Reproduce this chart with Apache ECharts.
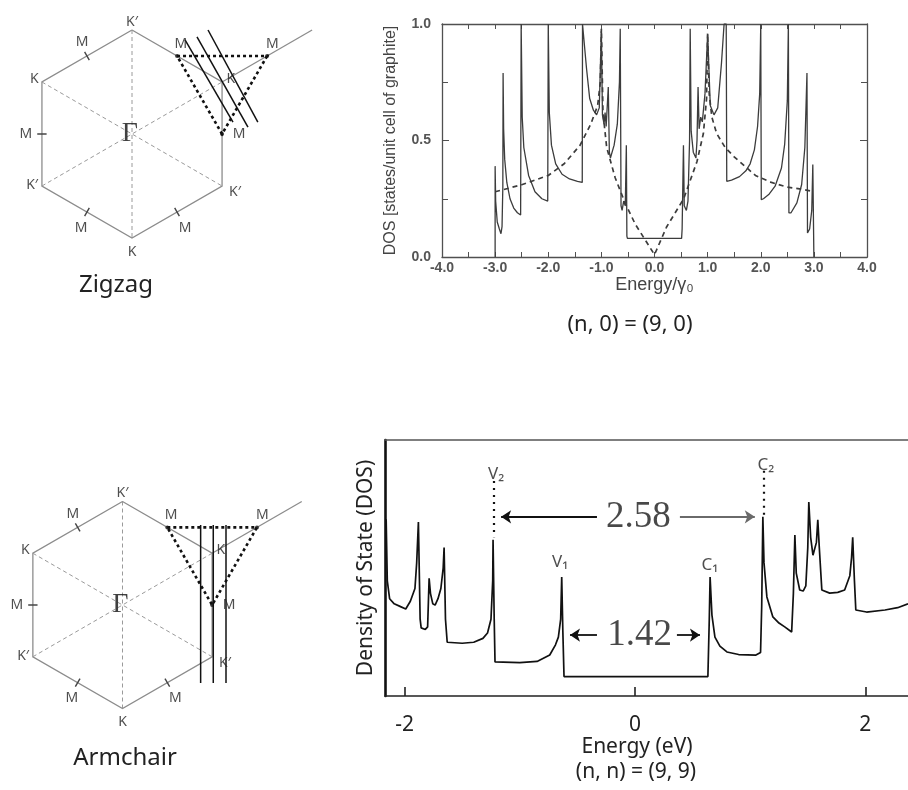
<!DOCTYPE html>
<html>
<head>
<meta charset="utf-8">
<title>Nanotube DOS</title>
<script src="https://cdn.jsdelivr.net/npm/echarts@6/dist/echarts.min.js"></script>
<style>
  html, body { margin: 0; padding: 0; background: #fff; }
  #main { width: 908px; height: 790px; }
</style>
</head>
<body>
<div id="main"></div>
<script>
// (9,0) zigzag tube, DOS in states / unit cell of graphite, energy in gamma0
var zzEnergy = [-3.0, -3.0, -2.99, -2.96, -2.92, -2.89, -2.87, -2.855, -2.85, -2.84, -2.82, -2.78, -2.72, -2.65, -2.58, -2.52,
  -2.51, -2.49, -2.46, -2.37, -2.25, -2.12, -2.01, -2.0, -1.98, -1.94, -1.86, -1.74, -1.6, -1.45, -1.36, -1.355,
  -1.32, -1.28, -1.22, -1.15, -1.09, -1.04, -1.0, -0.98, -0.95, -0.93, -0.91, -0.87, -0.85, -0.83, -0.76, -0.70,
  -0.66, -0.645, -0.63, -0.61, -0.58, -0.55, -0.53, -0.52, -0.51, 0.51, 0.52, 0.545, 0.56, 0.6, 0.63, 0.66,
  0.672, 0.69, 0.73, 0.78, 0.80, 0.82, 0.84, 0.87, 0.9, 0.95, 1.0, 1.05, 1.12, 1.19, 1.26, 1.31,
  1.35, 1.36, 1.45, 1.6, 1.72, 1.8, 1.88, 1.94, 1.98, 2.0, 2.01, 2.05, 2.15, 2.27, 2.39, 2.45,
  2.5, 2.52, 2.53, 2.57, 2.68, 2.77, 2.83, 2.87, 2.88, 2.92, 2.96, 2.98, 3.0];
var zzDos = [0, 0.39, 0.24, 0.15, 0.12, 0.10, 0.13, 0.30, 0.79, 0.55, 0.42, 0.32, 0.25, 0.21, 0.19, 0.18,
  1.0, 0.60, 0.47, 0.35, 0.28, 0.25, 0.24, 1.0, 0.62, 0.48, 0.40, 0.355, 0.335, 0.325, 0.32, 1.0,
  1.0, 0.81, 0.68, 0.63, 0.61, 0.64, 0.97, 0.61, 0.57, 0.62, 0.56, 0.73, 0.45, 0.425, 0.48, 0.57,
  0.75, 0.98, 0.22, 0.20, 0.24, 0.22, 0.48, 0.09, 0.08, 0.08, 0.12, 0.48, 0.22, 0.20, 0.24, 0.5,
  0.98, 0.54, 0.45, 0.425, 0.50, 0.73, 0.55, 0.60, 0.58, 0.70, 0.955, 0.65, 0.61, 0.64, 0.83, 1.0,
  1.0, 0.325, 0.33, 0.345, 0.37, 0.40, 0.46, 0.56, 0.70, 1.0, 0.246, 0.25, 0.268, 0.304, 0.382, 0.483,
  0.67, 1.0, 0.189, 0.19, 0.232, 0.311, 0.47, 0.79, 0.103, 0.12, 0.2, 0.397, 0];

// graphite DOS (dashed)
var grEnergy = [-3.0, -2.5, -2.0, -1.7, -1.4, -1.2, -1.07, -1.02, -1.0, -0.97, -0.9, -0.74, -0.55, -0.36, -0.11, 0.0,
  0.23, 0.55, 0.8, 0.92, 0.98, 1.0, 1.03, 1.08, 1.17, 1.33, 1.5, 1.7, 1.9, 2.2, 2.5, 2.8, 3.0];
var grDos = [0.28, 0.31, 0.35, 0.40, 0.48, 0.57, 0.65, 0.75, 0.98, 0.62, 0.47, 0.34, 0.23, 0.14, 0.05, 0.01,
  0.13, 0.25, 0.41, 0.53, 0.68, 0.96, 0.70, 0.60, 0.53, 0.47, 0.43, 0.39, 0.35, 0.32, 0.30, 0.29, 0.28];

// (9,9) armchair tube, DOS in arbitrary units, energy in eV
var acEnergy = [-2.16, -2.15, -2.13, -2.09, -2.04, -1.99, -1.95, -1.91, -1.895, -1.88, -1.865, -1.856, -1.82, -1.80, -1.787, -1.775,
  -1.755, -1.735, -1.71, -1.685, -1.665, -1.657, -1.645, -1.63, -1.5, -1.4, -1.32, -1.28, -1.25, -1.235, -1.232, -1.222,
  -1.215, -1.0, -0.85, -0.74, -0.69, -0.665, -0.645, -0.636, -0.626, -0.616, 0.633, 0.645, 0.652, 0.668, 0.694, 0.737,
  0.798, 0.9, 1.05, 1.09, 1.10, 1.11, 1.12, 1.145, 1.197, 1.25, 1.30, 1.36, 1.375, 1.388, 1.40, 1.43,
  1.46, 1.483, 1.5, 1.509, 1.525, 1.545, 1.56, 1.575, 1.587, 1.60, 1.622, 1.69, 1.76, 1.82, 1.865, 1.88,
  1.89, 1.905, 1.917, 2.01, 2.17, 2.28, 2.37];
var acDos = [69, 45, 38, 36, 35, 34, 37, 42, 52, 68, 30, 26.6, 26, 27, 46, 40,
  36, 35.5, 38, 42, 50, 58, 30, 21, 20.6, 21, 22.5, 24.6, 30, 45, 61, 30,
  13.3, 13, 13.5, 16, 20, 23, 30, 46.5, 25, 7.6, 7.6, 30, 46.5, 31.6, 23, 19.5,
  17.2, 16.2, 16, 17, 35, 70, 52, 38.7, 30.9, 28.5, 27, 25, 40, 62.9, 48, 41.4,
  41, 43, 58, 75.8, 62, 55, 54.3, 60, 68.8, 58, 41.4, 40.2, 40.5, 41.4, 47, 54,
  62, 45, 33.6, 32.8, 33.6, 34.5, 36];
var acTicks = [-2, 0, 2];

// annotations of the (9,9) plot
var annoText = ['V₂', 'C₂', 'V₁', 'C₁', '2.58', '1.42'];
var annoEnergy = [-1.206, 1.136, -0.65, 0.65, 0.03, 0.04];
var annoDos = [86.7, 90, 52.3, 51.2, 70, 23.8];
var vhsEnergy = [-1.223, 1.119]; // V2, C2 dotted markers
var vhsTop = [84, 88];
var vhsBottom = [62, 70];

// Brillouin zone, k in units of |Gamma-K|
var bzCorners = [[0, 1], [-0.866, 0.5], [-0.866, -0.5], [0, -1], [0.866, -0.5], [0.866, 0.5]];
var bzExtEnd = [1.732, 1.0];
var bzTriangle = [[0.433, 0.75], [1.299, 0.75], [0.866, 0], [0.433, 0.75]];
var bzLabelText = ['K′', 'K', 'M', 'M', 'K′', 'M', 'K', 'M', 'K′', 'M', 'M', 'K', 'M'];
var bzLabelX = [0, -0.94, -0.48, -1.02, -0.96, -0.49, 0, 0.51, 0.99, 0.47, 1.35, 0.95, 1.03];
var bzLabelY = [1.08, 0.53, 0.88, 0, -0.49, -0.90, -1.13, -0.90, -0.56, 0.87, 0.87, 0.53, 0];
var zigzagCuts = [[[0.51, 0.904], [0.971, 0.115]], [[0.625, 0.933], [1.115, 0.067]], [[0.731, 1.0], [1.21, 0.115]]];
var armchairCuts = [[[0.755, 0.773], [0.755, -0.754]], [[0.877, 0.773], [0.877, -0.754]], [[1.0, 0.773], [1.0, -0.754]]];

var chart = echarts.init(document.getElementById('main'));

function pairs (xs, ys) {
  return xs.map(function (x, i) { return [x, ys[i]]; });
}

//把k空间的范围换成坐标轴范围 (hexagon centre cx,cy in px, s px per unit)
function bzAxes (idx, cx, cy, s, gl, gt, gw, gh) {
  return {
    x: { gridIndex: idx, type: 'value', show: false, min: (gl - cx) / s, max: (gl + gw - cx) / s },
    y: { gridIndex: idx, type: 'value', show: false, min: (cy - gt - gh) / s, max: (cy - gt) / s }
  };
}

function edgeTick (i) {
  var a = bzCorners[i], b = bzCorners[(i + 1) % 6];
  var mx = (a[0] + b[0]) / 2, my = (a[1] + b[1]) / 2;
  var r = Math.sqrt(mx * mx + my * my);
  return [[mx - 0.045 * mx / r, my - 0.045 * my / r], [mx + 0.045 * mx / r, my + 0.045 * my / r]];
}

function segs (list) {
  return list.map(function (c) { return { coords: c }; });
}

function bzSeries (ai, cuts) {
  var base = { type: 'lines', coordinateSystem: 'cartesian2d', xAxisIndex: ai, yAxisIndex: ai, polyline: true, silent: true };
  var outline = bzCorners.concat([bzCorners[0]]);
  var c = bzCorners;
  return [
    Object.assign({}, base, {
      lineStyle: { color: '#8c8c8c', width: 1.3, opacity: 1 },
      data: segs([outline, [c[5], bzExtEnd]])
    }),
    Object.assign({}, base, {
      lineStyle: { color: '#9a9a9a', width: 1, type: [4, 3], opacity: 1 },
      data: segs([[c[0], c[3]], [c[1], c[4]], [c[2], c[5]]])
    }),
    Object.assign({}, base, {
      lineStyle: { color: '#444', width: 1.4, opacity: 1 },
      data: segs([edgeTick(0), edgeTick(1), edgeTick(2), edgeTick(3)])
    }),
    Object.assign({}, base, {
      lineStyle: { color: '#111', width: 1.5, opacity: 1 },
      data: segs(cuts)
    }),
    Object.assign({}, base, {
      lineStyle: { color: '#111', width: 2.6, type: [3, 3], opacity: 1 },
      data: segs([bzTriangle])
    }),
    {
      type: 'scatter', xAxisIndex: ai, yAxisIndex: ai, silent: true,
      symbolSize: 4, itemStyle: { color: '#111' },
      data: bzTriangle.slice(0, 3)
    },
    {
      type: 'scatter', xAxisIndex: ai, yAxisIndex: ai, silent: true,
      symbolSize: 1, itemStyle: { color: 'rgba(0,0,0,0)' },
      label: { show: true, position: 'inside', formatter: '{b}', fontSize: 14, color: '#222', fontFamily: 'Noto Sans' },
      data: bzLabelText.map(function (t, i) { return { name: t, value: [bzLabelX[i], bzLabelY[i]] }; })
        .concat([{ name: 'Γ', value: [-0.02, 0], label: { fontSize: 28, fontFamily: 'Liberation Serif', color: '#111' } }])
    }
  ];
}

var bzTop = bzAxes(0, 132, 134, 104, 0, 0, 330, 300);
var bzBot = bzAxes(1, 122.5, 605, 103.5, 0, 440, 330, 350);

var grayInk = '#505050';
var topLabel = { fontSize: 14, fontWeight: 'bold', color: '#555', fontFamily: 'Liberation Sans' };

var option = {
  animation: false,
  backgroundColor: '#ffffff',
  grid: [
    { left: 0, top: 0, width: 330, height: 300, outerBoundsMode: 'none' },
    { left: 0, top: 440, width: 330, height: 350, outerBoundsMode: 'none' },
    { left: 442, top: 24, width: 425, height: 233, outerBoundsMode: 'none' },
    { left: 385, top: 440, width: 523, height: 256, outerBoundsMode: 'none' }
  ],
  xAxis: [
    bzTop.x,
    bzBot.x,
    {
      gridIndex: 2, type: 'value', min: -4, max: 4, interval: 1, position: 'bottom',
      axisLine: { onZero: false, lineStyle: { color: grayInk, width: 1.3 } },
      axisTick: { inside: true, length: 5, lineStyle: { color: grayInk } },
      minorTick: { show: true, splitNumber: 2, length: 5, lineStyle: { color: grayInk } },
      axisLabel: Object.assign({ margin: 4, showMinLabel: true, showMaxLabel: true,
        formatter: function (v) { return v.toFixed(1); } }, topLabel),
      splitLine: { show: false },
      name: 'Energy/γ₀', nameLocation: 'middle', nameGap: 18,
      nameTextStyle: { fontSize: 18, color: '#444', fontFamily: 'Liberation Sans' }
    },
    {
      gridIndex: 2, type: 'value', min: -4, max: 4, interval: 1, position: 'top',
      axisLine: { onZero: false, lineStyle: { color: grayInk, width: 1.3 } },
      axisTick: { inside: true, length: 5, lineStyle: { color: grayInk } },
      minorTick: { show: true, splitNumber: 2, length: 5, lineStyle: { color: grayInk } },
      axisLabel: { show: false }, splitLine: { show: false }
    },
    {
      gridIndex: 3, type: 'value', min: -2.17, max: 2.37, position: 'bottom',
      axisLine: { onZero: false, lineStyle: { color: '#222', width: 1.6 } },
      axisTick: { inside: true, length: 9, customValues: acTicks, lineStyle: { color: '#222', width: 1.6 } },
      axisLabel: { customValues: acTicks, margin: 19, fontSize: 21, color: '#222', fontFamily: 'Noto Sans' },
      splitLine: { show: false },
      name: 'Energy (eV)', nameLocation: 'middle', nameGap: 33,
      nameTextStyle: { fontSize: 21, color: '#222', fontFamily: 'Noto Sans', padding: [0, 19, 0, 0] }
    },
    {
      gridIndex: 3, type: 'value', min: -2.17, max: 2.37, position: 'top',
      axisLine: { onZero: false, lineStyle: { color: '#555', width: 1.6 } },
      axisTick: { show: false }, axisLabel: { show: false }, splitLine: { show: false }
    }
  ],
  yAxis: [
    bzTop.y,
    bzBot.y,
    {
      gridIndex: 2, type: 'value', min: 0, max: 1, interval: 0.5, position: 'left',
      axisLine: { show: true, onZero: false, lineStyle: { color: grayInk, width: 1.3 } },
      axisTick: { show: true, inside: true, length: 7, lineStyle: { color: grayInk } },
      minorTick: { show: true, splitNumber: 2, length: 6, lineStyle: { color: grayInk } },
      axisLabel: Object.assign({ margin: 11, formatter: function (v) { return v.toFixed(1); } }, topLabel),
      splitLine: { show: false },
      name: 'DOS [states/unit cell of graphite]', nameLocation: 'middle', nameGap: 43,
      nameTextStyle: { fontSize: 16, color: '#444', fontFamily: 'Liberation Sans' }
    },
    {
      gridIndex: 2, type: 'value', min: 0, max: 1, interval: 0.5, position: 'right',
      axisLine: { show: true, onZero: false, lineStyle: { color: grayInk, width: 1.3 } },
      axisTick: { show: true, inside: true, length: 7, lineStyle: { color: grayInk } },
      minorTick: { show: true, splitNumber: 2, length: 6, lineStyle: { color: grayInk } },
      axisLabel: { show: false }, splitLine: { show: false }
    },
    {
      gridIndex: 3, type: 'value', min: 0, max: 100, position: 'left',
      axisLine: { show: true, onZero: false, lineStyle: { color: '#111', width: 2.6 } },
      axisTick: { show: false }, axisLabel: { show: false }, splitLine: { show: false },
      name: 'Density of State (DOS)', nameLocation: 'middle', nameGap: 8,
      nameTextStyle: { fontSize: 21, color: '#222', fontFamily: 'Noto Sans' }
    }
  ],
  series: [].concat(
    bzSeries(0, zigzagCuts),
    bzSeries(1, armchairCuts),
    [
      {
        name: '(9,0)', type: 'line', xAxisIndex: 2, yAxisIndex: 2, symbol: 'none', silent: true,
        lineStyle: { color: '#3c3c3c', width: 1.3 },
        data: pairs(zzEnergy, zzDos)
      },
      {
        name: 'graphite', type: 'line', xAxisIndex: 2, yAxisIndex: 2, symbol: 'none', silent: true,
        lineStyle: { color: '#3c3c3c', width: 1.7, type: [5, 4] },
        data: pairs(grEnergy, grDos)
      },
      {
        name: '(9,9)', type: 'line', xAxisIndex: 4, yAxisIndex: 4, symbol: 'none', silent: true,
        lineStyle: { color: '#111', width: 1.7 },
        data: pairs(acEnergy, acDos)
      },
      {
        type: 'lines', coordinateSystem: 'cartesian2d', xAxisIndex: 4, yAxisIndex: 4, silent: true,
        lineStyle: { color: '#111', width: 2.2, type: [2, 5], opacity: 1 },
        data: vhsEnergy.map(function (e, i) { return { coords: [[e, vhsTop[i]], [e, vhsBottom[i]]] }; })
      },
      {
        type: 'lines', coordinateSystem: 'cartesian2d', xAxisIndex: 4, yAxisIndex: 4, silent: true,
        symbol: ['none', 'arrow'], symbolSize: [0, 10],
        lineStyle: { color: '#111', width: 1.8, opacity: 1 },
        data: [
          { coords: [[-0.33, annoDos[4]], [-1.162, annoDos[4]]] },
          { coords: [[0.39, annoDos[4]], [1.04, annoDos[4]]], lineStyle: { color: '#6a6a6a' } },
          { coords: [[-0.33, annoDos[5]], [-0.564, annoDos[5]]] },
          { coords: [[0.364, annoDos[5]], [0.564, annoDos[5]]] }
        ]
      },
      {
        type: 'scatter', xAxisIndex: 4, yAxisIndex: 4, silent: true,
        symbolSize: 1, itemStyle: { color: 'rgba(0,0,0,0)' },
        label: { show: true, position: 'inside', formatter: '{b}', fontSize: 17, color: '#222', fontFamily: 'Noto Sans' },
        data: annoText.map(function (t, i) {
          var item = { name: t, value: [annoEnergy[i], annoDos[i]] };
          if (i >= 4) {
            item.label = { fontSize: 37, fontFamily: 'Liberation Serif', color: '#1a1a1a' };
          }
          return item;
        })
      }
    ]
  ),
  graphic: [
    { type: 'text', x: 116, y: 285, silent: true,
      style: { text: 'Zigzag', font: '24px "Noto Sans"', fill: '#222', textAlign: 'center', textVerticalAlign: 'middle' } },
    { type: 'text', x: 125, y: 758, silent: true,
      style: { text: 'Armchair', font: '24px "Noto Sans"', fill: '#222', textAlign: 'center', textVerticalAlign: 'middle' } },
    { type: 'text', x: 630, y: 325, silent: true,
      style: { text: '(n, 0) = (9, 0)', font: '22px "Noto Sans"', fill: '#222', textAlign: 'center', textVerticalAlign: 'middle' } },
    { type: 'text', x: 636, y: 772, silent: true,
      style: { text: '(n, n) = (9, 9)', font: '21px "Noto Sans"', fill: '#222', textAlign: 'center', textVerticalAlign: 'middle' } }
  ]
};

chart.setOption(option);
</script>
</body>
</html>
